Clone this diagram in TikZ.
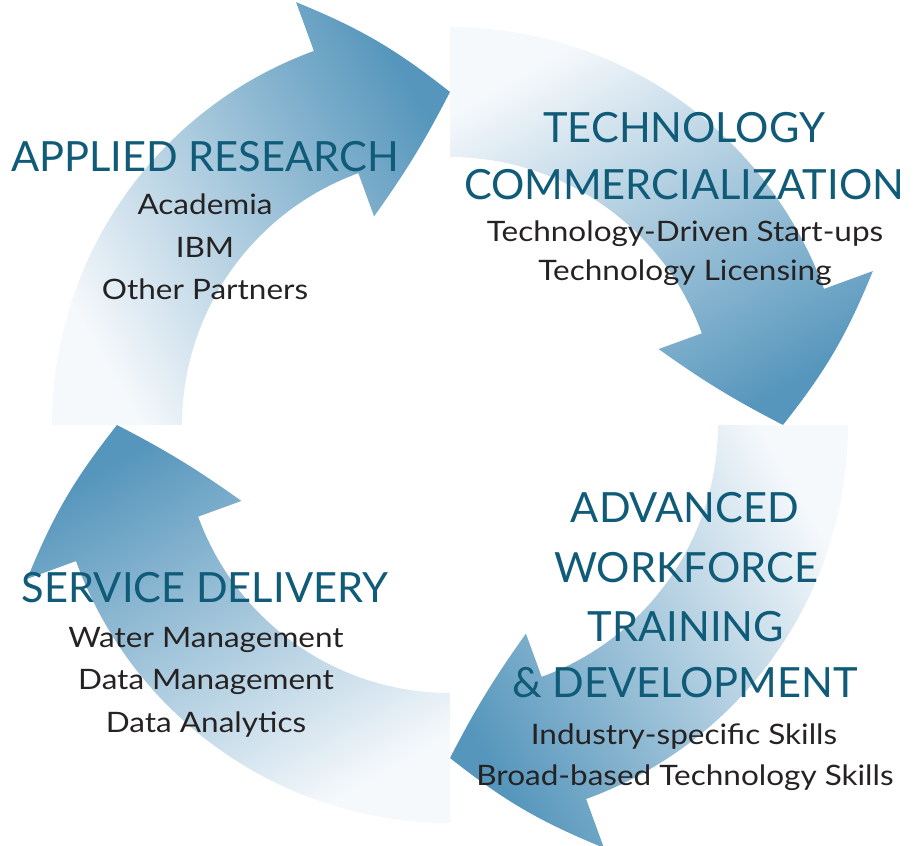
\documentclass[tikz,border=0pt]{standalone}
\usepackage{fontspec}
\setmainfont{Lato}
\newfontfamily\itemfont[FakeStretch=1.12]{Lato}
\usepackage{tikz}
\definecolor{cycleblue}{HTML}{5696BC}
\definecolor{cyclewhite}{HTML}{F6F9FC}
\definecolor{headteal}{HTML}{0F5B78}
\definecolor{bodygray}{HTML}{252223}
\tikzset{
  head/.style={font=\fontsize{29.6}{32}\selectfont, text=headteal, anchor=base, inner sep=0pt},
  item/.style={font=\itemfont\fontsize{20}{22}\selectfont, text=bodygray, anchor=base, inner sep=0pt},
}
% one quarter of the cycle: tail angle, shading angle
\newcommand{\cyclearrow}[2]{%
  \shade[bottom color=cyclewhite, top color=cycleblue, shading angle=#2]
    (#1:398) arc[start angle=#1, end angle=#1-70, radius=398]
    -- (#1-70:450) to[bend left=8] (#1-90:333) to[bend left=4] (#1-70:222)
    -- (#1-70:268) arc[start angle=#1-70, end angle=#1, radius=268] -- cycle;}

\begin{document}
\begin{tikzpicture}[x=0.025cm, y=0.025cm]
	\useasboundingbox (-450,-421) rectangle (464,425);
	% arrows
	\cyclearrow{180}{-60}
	\cyclearrow{90}{-150}
	\cyclearrow{0}{120}
	\cyclearrow{-90}{30}
	% applied research
	\node[head] (research) at (-245,253) {APPLIED RESEARCH};
	\node[item] (academia) at (-245,210) {Academia};
	\node[item] (ibm) at (-245,167) {IBM};
	\node[item] (partners) at (-245,125) {Other Partners};
	% technology commercialization
	\node[head] (tech) at (234,282) {TECHNOLOGY};
	\node[head] (comm) at (234,225) {COMMERCIALIZATION};
	\node[item] (startups) at (235,183) {Technology-Driven Start-ups};
	\node[item] (licensing) at (235,144) {Technology Licensing};
	% workforce
	\node[head] (advanced) at (235,-98) {ADVANCED};
	\node[head] (workforce) at (236,-158) {WORKFORCE};
	\node[head] (training) at (236,-217) {TRAINING};
	\node[head] (develop) at (235,-273) {\& DEVELOPMENT};
	\node[item] (industry) at (234,-320) {Industry-specific Skills};
	\node[item] (broad) at (235,-360) {Broad-based Technology Skills};
	% service delivery
	\node[head] (service) at (-245,-178) {SERVICE DELIVERY};
	\node[item] (water) at (-244,-223) {Water Management};
	\node[item] (datamgmt) at (-244,-265) {Data Management};
	\node[item] (analytics) at (-244,-307) {Data Analytics};
\end{tikzpicture}
\end{document}
